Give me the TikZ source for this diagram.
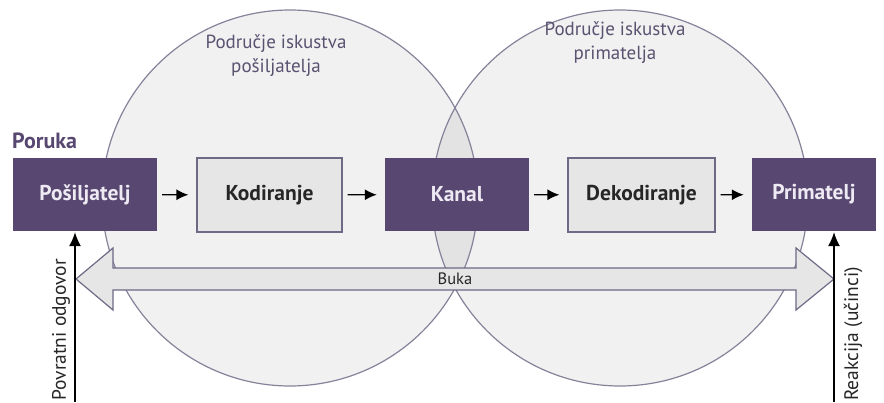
\documentclass[tikz,border=0pt]{standalone}
\usepackage{fontspec}
\setmainfont{PT Sans}
\usetikzlibrary{arrows.meta}
\definecolor{purp}{HTML}{584770}
\definecolor{lav}{HTML}{EEEAF3}
\definecolor{cfill}{HTML}{F1F1F1}
\definecolor{lensfill}{HTML}{E3E3E3}
\definecolor{cline}{HTML}{86829A}
\definecolor{gfill}{HTML}{E6E6E6}
\definecolor{gline}{HTML}{6F6986}
\definecolor{ctext}{HTML}{5A5270}
\definecolor{dtext}{HTML}{262626}
\begin{document}
\begin{tikzpicture}[x=1pt,y=-1pt,
  darkbox/.style={fill=purp, text=lav, minimum height=73pt, inner sep=0pt, font=\fontsize{21.5}{24}\selectfont\bfseries},
  greybox/.style={fill=gfill, draw=gline, line width=1.2pt, text=dtext, minimum height=74pt, inner sep=0pt, font=\fontsize{21.5}{24}\selectfont\bfseries},
  flow/.style={-{Latex[length=12pt,width=11pt]}, line width=1.4pt, shorten <=5pt, shorten >=8pt},
  upflow/.style={-{Latex[length=14pt,width=12pt]}, line width=1.3pt, shorten >=1pt},
  circtext/.style={text=ctext, align=center, font=\fontsize{19}{24}\selectfont},
  sidetext/.style={rotate=90, anchor=west, inner sep=0pt, text=dtext, font=\fontsize{19.5}{22}\selectfont}
]
\useasboundingbox (0,0) rectangle (884,402);
% circles
\fill[cfill] (290,198) circle[radius=188pt];
\fill[cfill] (620,198) circle[radius=188pt];
\begin{scope}
  \clip (290,198) circle[radius=188pt];
  \fill[lensfill] (620,198) circle[radius=188pt];
\end{scope}
\draw[cline, line width=1.2pt] (290,198) circle[radius=188pt] (620,198) circle[radius=188pt];
\node[circtext] (lt) at (276,56) {Područje iskustva\\pošiljatelja};
\node[circtext] (rt) at (615,43) {Područje iskustva\\primatelja};
% boxes
\node[darkbox, minimum width=144pt] (p) at (85,194.5) {Pošiljatelj};
\node[greybox, minimum width=145pt] (k) at (269.5,195) {Kodiranje};
\node[darkbox, minimum width=144pt] (ka) at (457,194.5) {Kanal};
\node[greybox, minimum width=147pt] (d) at (641.5,195) {Dekodiranje};
\node[darkbox, minimum width=124pt] (pr) at (814,194.5) {Primatelj};
\node[anchor=west, inner sep=0pt, text=purp, font=\fontsize{22}{24}\selectfont\bfseries] (por) at (12,141) {Poruka};
\draw[flow] (p) -- (k);
\draw[flow] (k) -- (ka);
\draw[flow] (ka) -- (d);
\draw[flow] (d) -- (pr);
% noise arrow
\draw[fill=gfill, draw=gline, line width=1.2pt] (76,279) -- (113,248) -- (113,268) -- (796,268) -- (796,248) -- (834,279) -- (796,310) -- (796,290) -- (113,290) -- (113,310) -- cycle;
\node[text=dtext, font=\fontsize{16.5}{18}\selectfont] (buka) at (455,279) {Buka};
% feedback arrows
\coordinate (fb) at (75,402);
\coordinate (rc) at (834,402);
\draw[upflow] (fb) -- (fb |- p.south);
\draw[upflow] (rc) -- (rc |- pr.south);
\node[sidetext] (pov) at (61,401) {Povratni odgovor};
\node[sidetext] (rea) at (853,401) {Reakcija (učinci)};
\end{tikzpicture}
\end{document}
